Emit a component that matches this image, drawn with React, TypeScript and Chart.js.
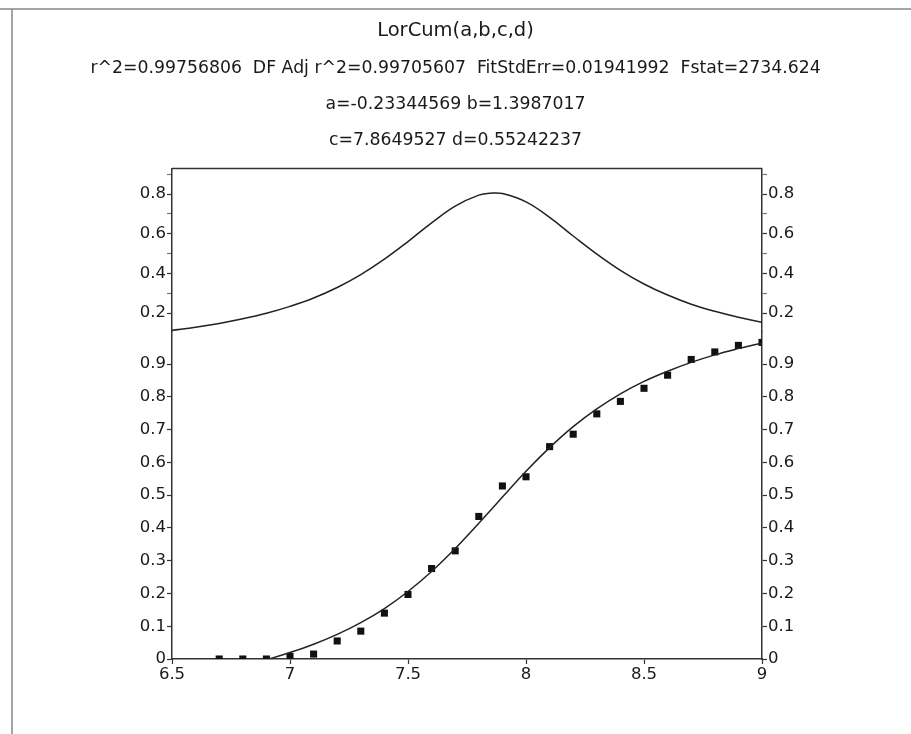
import React, { useEffect, useRef } from 'react';
import { Chart, registerables } from 'chart.js';

Chart.register(...registerables);

// ---- data ----
const titleText = 'LorCum(a,b,c,d)';
const statLines = [
  'r^2=0.99756806  DF Adj r^2=0.99705607  FitStdErr=0.01941992  Fstat=2734.624',
  'a=-0.23344569 b=1.3987017',
  'c=7.8649527 d=0.55242237',
];

const curveX = [6.5, 6.6, 6.7, 6.8, 6.9, 7.0, 7.1, 7.2, 7.3, 7.4, 7.5, 7.6, 7.7, 7.8, 7.85, 7.9, 8.0, 8.1, 8.2, 8.3, 8.4, 8.5, 8.6, 8.7, 8.8, 8.9, 9.0];
// upper panel: peak (density) curve
const densityY = [0.113, 0.129, 0.148, 0.171, 0.199, 0.234, 0.276, 0.329, 0.394, 0.472, 0.561, 0.655, 0.74, 0.795, 0.805, 0.803, 0.761, 0.683, 0.589, 0.498, 0.416, 0.347, 0.291, 0.245, 0.209, 0.179, 0.154];
// lower panel: fitted cumulative curve
const fitY = [-0.062, -0.05, -0.036, -0.02, -0.002, 0.02, 0.045, 0.075, 0.111, 0.154, 0.206, 0.267, 0.337, 0.414, 0.454, 0.494, 0.573, 0.645, 0.709, 0.763, 0.809, 0.847, 0.878, 0.905, 0.928, 0.947, 0.964];

const dataX = [6.7, 6.8, 6.9, 7.0, 7.1, 7.2, 7.3, 7.4, 7.5, 7.6, 7.7, 7.8, 7.9, 8.0, 8.1, 8.2, 8.3, 8.4, 8.5, 8.6, 8.7, 8.8, 8.9, 9.0];
const dataY = [0, 0, 0, 0.008, 0.015, 0.055, 0.085, 0.14, 0.197, 0.276, 0.33, 0.435, 0.528, 0.556, 0.648, 0.686, 0.748, 0.786, 0.826, 0.866, 0.914, 0.937, 0.957, 0.966];

const xMin = 6.5;
const xMax = 9;
const xStep = 0.5;
const topMin = 0.105;
const topMax = 0.93;
const botMin = 0;
const botMax = 0.998;
const yStep = 0.1;

const FONT = "'DejaVu Sans', 'Liberation Sans', sans-serif";
const TEXT = '#1a1a1a';
const AXIS = '#333';

const framePlugin = {
  id: 'frame',
  beforeDraw(chart: any) {
    const { ctx, chartArea } = chart;
    ctx.save();
    ctx.fillStyle = '#fff';
    ctx.fillRect(0, 0, chart.width, chart.height);
    ctx.strokeStyle = '#888';
    ctx.lineWidth = 1.5;
    ctx.beginPath();
    ctx.moveTo(0, 9);
    ctx.lineTo(chart.width, 9);
    ctx.moveTo(12, 9);
    ctx.lineTo(12, chart.height);
    ctx.stroke();
    ctx.strokeStyle = AXIS;
    ctx.lineWidth = 1.5;
    ctx.beginPath();
    ctx.moveTo(chartArea.left, chartArea.top);
    ctx.lineTo(chartArea.right, chartArea.top);
    ctx.stroke();
    ctx.restore();
  },
};

function upperLabel(v: number) {
  const t = Math.round(v * 10);
  return t % 2 === 0 ? (t / 10).toFixed(1) : '';
}
function lowerLabel(v: number) {
  const t = Math.round(v * 10);
  return t === 0 ? '0' : (t / 10).toFixed(1);
}

function yAxis(position: 'left' | 'right', upper: boolean) {
  const width = position === 'left' ? 172 : 149;
  return {
    type: 'linear',
    position,
    stack: 'panels',
    stackWeight: upper ? 0.5 : 1,
    min: upper ? topMin : botMin,
    max: upper ? topMax : botMax,
    offset: false,
    border: { display: true, color: AXIS, width: 1.5 },
    grid: {
      drawOnChartArea: false,
      drawTicks: true,
      tickLength: 5,
      tickWidth: 1.2,
      tickColor: (ctx: any) => {
        if (!upper || !ctx.tick) return AXIS;
        return Math.round(ctx.tick.value * 10) % 2 === 0 ? AXIS : '#777';
      },
    },
    ticks: {
      stepSize: yStep,
      includeBounds: false,
      autoSkip: false,
      padding: 1,
      color: TEXT,
      font: { family: FONT, size: 16.5 },
      callback: (v: any) => (upper ? upperLabel(Number(v)) : lowerLabel(Number(v))),
    },
    afterFit: (scale: any) => {
      scale.width = width;
    },
  };
}

export default function App() {
  const ref = useRef<HTMLCanvasElement | null>(null);

  useEffect(() => {
    if (!ref.current) return;
    const chart = new Chart(ref.current, {
      type: 'line',
      data: {
        datasets: [
          {
            label: 'peak',
            data: curveX.map((x, i) => ({ x, y: densityY[i] })),
            xAxisID: 'x',
            yAxisID: 'yTop',
            borderColor: '#222',
            borderWidth: 1.5,
            pointRadius: 0,
            tension: 0.4,
            fill: false,
          },
          {
            label: 'fit',
            data: curveX.map((x, i) => ({ x, y: fitY[i] })),
            xAxisID: 'x',
            yAxisID: 'yBot',
            borderColor: '#222',
            borderWidth: 1.5,
            pointRadius: 0,
            tension: 0.4,
            fill: false,
          },
          {
            label: 'data',
            data: dataX.map((x, i) => ({ x, y: dataY[i] })),
            xAxisID: 'x',
            yAxisID: 'yBot',
            showLine: false,
            pointStyle: 'rect',
            pointRadius: 5,
            pointBackgroundColor: '#111',
            pointBorderWidth: 0,
            borderColor: '#111',
          },
        ],
      },
      options: {
        responsive: false,
        animation: false,
        devicePixelRatio: 1,
        layout: { padding: 0 },
        plugins: {
          legend: { display: false },
          tooltip: { enabled: false },
          title: {
            display: true,
            text: titleText,
            color: TEXT,
            font: { family: FONT, size: 19.5, weight: 'normal', lineHeight: 1.2 },
            padding: { top: 19, bottom: 0 },
          },
          subtitle: {
            display: true,
            text: statLines,
            color: TEXT,
            font: { family: FONT, size: 17.3, weight: 'normal', lineHeight: '36px' },
            padding: { top: 8, bottom: 10 },
          },
        },
        scales: {
          x: {
            type: 'linear',
            position: 'bottom',
            min: xMin,
            max: xMax,
            border: { display: true, color: AXIS, width: 1.5 },
            grid: { drawOnChartArea: false, drawTicks: true, tickLength: 5, tickColor: AXIS, tickWidth: 1.2 },
            ticks: {
              stepSize: xStep,
              padding: 1,
              maxRotation: 0,
              autoSkip: false,
              color: TEXT,
              font: { family: FONT, size: 16.5 },
              callback: (v: any) => String(Number(v)),
            },
            afterFit: (scale: any) => {
              scale.height = 75;
            },
          },
          yBot: yAxis('left', false),
          yTop: yAxis('left', true),
          yTopR: yAxis('right', true),
          yBotR: yAxis('right', false),
        } as any,
      },
      plugins: [framePlugin],
    } as any);
    return () => chart.destroy();
  }, []);

  return (
    <div style={{ position: 'absolute', left: 0, top: 0, width: 911, height: 734, background: '#fff' }}>
      <canvas ref={ref} width={911} height={734} style={{ display: 'block' }} />
    </div>
  );
}
